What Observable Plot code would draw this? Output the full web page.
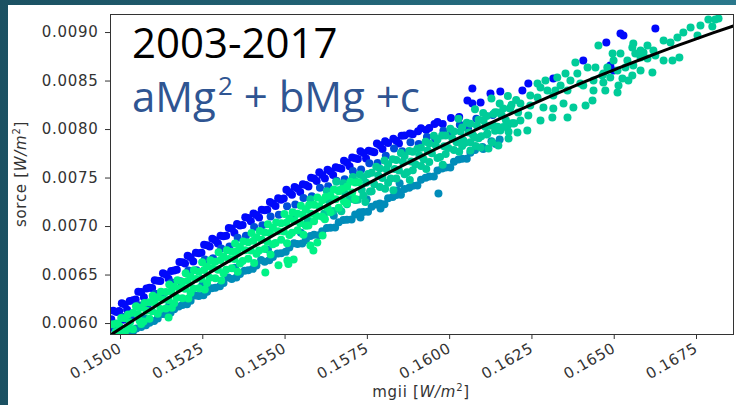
<!DOCTYPE html>
<html><head><meta charset="utf-8">
<script src="https://cdn.jsdelivr.net/npm/d3@7"></script>
<script src="https://cdn.jsdelivr.net/npm/@observablehq/plot@0.6"></script>
<style>
html,body{margin:0;padding:0;background:#1c5464;}
#wrap{position:relative;width:736px;height:405px;overflow:hidden;background:linear-gradient(90deg,#1b5162,#2a788c);}
#panel{position:absolute;left:8px;top:5px;width:728px;height:400px;background:#fff;}
#chart{position:absolute;left:0;top:0;}
</style></head><body>
<div id="wrap"><div id="panel"></div><div id="chart"></div></div>
<script>
const xTicks = [0.1500,0.1525,0.1550,0.1575,0.1600,0.1625,0.1650,0.1675];
const yTicks = [0.0060,0.0065,0.0070,0.0075,0.0080,0.0085,0.0090];
const shades = {blue:0.03, azure:0.3, steel:0.55, teal:0.8, green:0.95};

const fitMg = [0.1497,0.1500,0.1510,0.1520,0.1530,0.1540,0.1550,0.1560,0.1570,0.1580,0.1590,0.1600,0.1610,0.1620,0.1630,0.1640,0.1650,0.1660,0.1670,0.1680,0.1686];
const fitSorce = [0.005882,0.005948,0.006166,0.006378,0.006584,0.006784,0.006979,0.007169,0.007352,0.007530,0.007702,0.007869,0.008030,0.008185,0.008334,0.008478,0.008616,0.008748,0.008875,0.008996,0.009066];

const blue = [
[0.14978,0.006133],[0.14972,0.006043],[0.14980,0.005953],[0.15004,0.006208],[0.14996,0.006128],[0.15008,0.006038],
[0.15028,0.006233],[0.15020,0.006143],[0.15054,0.006328],[0.15046,0.006248],[0.15079,0.006362],[0.15071,0.006272],
[0.15104,0.006446],[0.15096,0.006366],[0.15129,0.006519],[0.15121,0.006439],[0.15154,0.006542],[0.15146,0.006462],
[0.15179,0.006635],[0.15171,0.006555],[0.15204,0.006698],[0.15196,0.006618],[0.15229,0.006730],[0.15221,0.006640],
[0.15254,0.006811],[0.15246,0.006731],[0.15279,0.006873],[0.15271,0.006793],[0.15304,0.006904],[0.15296,0.006824],
[0.15329,0.006985],[0.15321,0.006905],[0.15354,0.007025],[0.15346,0.006935],[0.15379,0.007095],[0.15371,0.007015],
[0.15404,0.007134],[0.15396,0.007054],[0.15429,0.007174],[0.15421,0.007094],[0.15454,0.007253],[0.15446,0.007173],
[0.15479,0.007291],[0.15471,0.007211],[0.15504,0.007379],[0.15496,0.007289],[0.15529,0.007407],[0.15521,0.007327],
[0.15554,0.007435],[0.15546,0.007355],[0.15579,0.007502],[0.15571,0.007412],[0.15604,0.007559],[0.15596,0.007469],
[0.15629,0.007585],[0.15621,0.007495],[0.15654,0.007611],[0.15646,0.007531],[0.15679,0.007677],[0.15671,0.007597],
[0.15704,0.007712],[0.15696,0.007622],[0.15729,0.007777],[0.15721,0.007697],[0.15754,0.007782],[0.15746,0.007702],
[0.15779,0.007856],[0.15771,0.007766],[0.15804,0.007880],[0.15796,0.007800],[0.15829,0.007904],[0.15854,0.007937],
[0.15846,0.007857],[0.15879,0.007960],[0.15904,0.007982],[0.15929,0.007994],[0.15954,0.008056],[0.15979,0.008058],
[0.16004,0.008119],[0.16029,0.008130],[0.16054,0.008299],[0.16069,0.008423],[0.16069,0.008268],[0.16094,0.008278],
[0.16124,0.008371],[0.16154,0.008392],[0.16221,0.008402],[0.16239,0.008474],[0.16315,0.008526],[0.16406,0.008711],
[0.16476,0.008897],[0.16519,0.008990],[0.16528,0.008969],[0.16625,0.009041],[0.16488,0.008660],[0.16498,0.008608]
];
const blueMid = [
[0.14988,0.006120],[0.15013,0.006195],[0.15038,0.006240],[0.15063,0.006325],[0.15088,0.006369],[0.15113,0.006442],
[0.15138,0.006505],[0.15163,0.006548],[0.15188,0.006631],[0.15213,0.006684],[0.15238,0.006725],[0.15263,0.006807],
[0.15288,0.006858],[0.15313,0.006899],[0.15338,0.006980],[0.15363,0.007010],[0.15388,0.007089],[0.15413,0.007119],
[0.15438,0.007168],[0.15463,0.007237],[0.15488,0.007275],[0.15513,0.007353],[0.15538,0.007391],[0.15563,0.007428],
[0.15588,0.007495],[0.15613,0.007532],[0.15638,0.007568],[0.15663,0.007604],[0.15688,0.007659],[0.15713,0.007704],
[0.15738,0.007759],[0.15763,0.007774],[0.15788,0.007838],[0.15813,0.007862],[0.15838,0.007885],[0.15863,0.007938],
[0.15888,0.007951],[0.15913,0.008013],[0.15938,0.008015],[0.15963,0.008077]
];

const azure = [
[0.14982,0.005973],[0.15008,0.006068],[0.15032,0.006053],[0.15055,0.006188],[0.15082,0.006182],[0.15105,0.006306],
[0.15131,0.006309],[0.15155,0.006422],[0.15182,0.006435],[0.15206,0.006548],[0.15231,0.006550],[0.15256,0.006661],
[0.15281,0.006673],[0.15306,0.006774],[0.15331,0.006795],[0.15356,0.006885],[0.15381,0.006905],[0.15406,0.006994],
[0.15431,0.007014],[0.15456,0.007103],[0.15481,0.007121],[0.15506,0.007209],[0.15531,0.007227],[0.15556,0.007295],
[0.15581,0.007312],[0.15606,0.007399],[0.15631,0.007415],[0.15656,0.007471],[0.15681,0.007487],[0.15706,0.007572],
[0.15731,0.007587],[0.15756,0.007652],[0.15781,0.007656],[0.15806,0.007730],[0.15831,0.007804],[0.15856,0.007777],
[0.15881,0.007870],[0.15906,0.007852],[0.15931,0.007924],[0.15956,0.007906],[0.15981,0.007988],[0.16006,0.007969],
[0.16031,0.008050],[0.16056,0.008010],[0.16081,0.008110],[0.16131,0.008149]
];

const steel = [
[0.14990,0.005883],[0.15002,0.005898],[0.15027,0.005923],[0.15048,0.005948],[0.15077,0.005982],[0.15073,0.006052],
[0.15102,0.006026],[0.15127,0.006099],[0.15152,0.006112],[0.15148,0.006192],[0.15177,0.006175],[0.15202,0.006198],
[0.15227,0.006290],[0.15252,0.006291],[0.15248,0.006391],[0.15277,0.006363],[0.15302,0.006384],[0.15327,0.006475],
[0.15352,0.006475],[0.15348,0.006575],[0.15377,0.006545],[0.15402,0.006564],[0.15427,0.006654],[0.15452,0.006653],
[0.15448,0.006763],[0.15477,0.006721],[0.15502,0.006739],[0.15527,0.006827],[0.15552,0.006825],[0.15548,0.006935],
[0.15577,0.006902],[0.15602,0.006909],[0.15627,0.006985],[0.15652,0.006991],[0.15648,0.007111],[0.15677,0.007067],
[0.15702,0.007072],[0.15727,0.007147],[0.15752,0.007152],[0.15748,0.007282],[0.15777,0.007226],[0.15802,0.007230],
[0.15827,0.007304],[0.15852,0.007327],[0.15848,0.007447],[0.15877,0.007400],[0.15902,0.007422],[0.15927,0.007504],
[0.15952,0.007516],[0.15977,0.007598],[0.16002,0.007609],[0.16027,0.007690],[0.16052,0.007700],[0.16077,0.007790],
[0.16102,0.007800],[0.16127,0.007879],[0.16152,0.007898],[0.15790,0.007186],[0.15729,0.007093],[0.15841,0.007371],
[0.15966,0.007340],[0.16100,0.007820],[0.16140,0.007850]
];
const steelMid = [
[0.15013,0.005875],[0.15038,0.005920],[0.15063,0.005965],[0.15088,0.006009],[0.15113,0.006052],[0.15138,0.006095],
[0.15163,0.006148],[0.15188,0.006191],[0.15213,0.006234],[0.15238,0.006285],[0.15263,0.006327],[0.15288,0.006368],
[0.15313,0.006419],[0.15338,0.006460],[0.15363,0.006510],[0.15388,0.006549],[0.15413,0.006599],[0.15438,0.006638],
[0.15463,0.006687],[0.15488,0.006725],[0.15513,0.006783],[0.15538,0.006821],[0.15563,0.006858],[0.15588,0.006915],
[0.15613,0.006952],[0.15638,0.006988],[0.15663,0.007044],[0.15688,0.007069],[0.15713,0.007124],[0.15738,0.007149],
[0.15763,0.007204],[0.15788,0.007238],[0.15813,0.007292],[0.15838,0.007325],[0.15863,0.007388],[0.15888,0.007421],
[0.15913,0.007483],[0.15938,0.007515],[0.15963,0.007577],[0.15988,0.007608],[0.16013,0.007669],[0.16038,0.007700],
[0.16063,0.007760]
];

const teal = [
[0.15527,0.007107],[0.15577,0.007282],[0.15569,0.007062],[0.15627,0.007365],[0.15633,0.007265],[0.15619,0.007135],
[0.15646,0.007161],[0.15656,0.007461],[0.15677,0.007447],[0.15683,0.007337],[0.15671,0.007157],[0.15696,0.007282],
[0.15706,0.007512],[0.15727,0.007537],[0.15733,0.007377],[0.15721,0.007277],[0.15752,0.007542],[0.15746,0.007452],
[0.15758,0.007362],[0.15744,0.007252],[0.15777,0.007616],[0.15783,0.007526],[0.15771,0.007436],[0.15802,0.007680],
[0.15808,0.007590],[0.15796,0.007500],[0.15804,0.007390],[0.15827,0.007694],[0.15833,0.007594],[0.15821,0.007494],
[0.15829,0.007374],[0.15852,0.007757],[0.15858,0.007667],[0.15846,0.007577],[0.15877,0.007780],[0.15883,0.007670],
[0.15871,0.007560],[0.15879,0.007480],[0.15902,0.007802],[0.15908,0.007732],[0.15896,0.007642],[0.15927,0.007874],
[0.15933,0.007784],[0.15921,0.007694],[0.15929,0.007594],[0.15952,0.007936],[0.15958,0.007836],[0.15946,0.007756],
[0.15977,0.007938],[0.15983,0.007828],[0.15971,0.007718],[0.15979,0.007638],[0.16002,0.008009],[0.16008,0.007909],
[0.15996,0.007809],[0.16027,0.008110],[0.16033,0.007980],[0.16021,0.007870],[0.16029,0.007770],[0.16052,0.008070],
[0.16058,0.007970],[0.16046,0.007860],[0.16077,0.008210],[0.16083,0.008040],[0.16071,0.007940],[0.16079,0.007830],
[0.16102,0.008170],[0.16108,0.008030],[0.16096,0.007930],[0.16127,0.008319],[0.16133,0.008159],[0.16121,0.008039],
[0.16129,0.007869],[0.16152,0.008268],[0.16158,0.008148],[0.16146,0.008028],[0.16177,0.008347],[0.16183,0.008217],
[0.16171,0.008097],[0.16179,0.007977],[0.16202,0.008305],[0.16208,0.008175],[0.16196,0.008065],
[0.16786,0.009134],[0.16807,0.009134],[0.16817,0.009144],[0.16762,0.009072],[0.16798,0.009062],[0.16732,0.009051],
[0.16710,0.009000],[0.16753,0.008969],[0.16650,0.008917],[0.16671,0.008897],[0.16692,0.008948],[0.16601,0.008866],
[0.16558,0.008887],[0.16555,0.008845],[0.16589,0.008794],[0.16619,0.008814],[0.16580,0.008742],[0.16564,0.008783],
[0.16540,0.008711],[0.16519,0.008783],[0.16495,0.008783],[0.16498,0.008711],[0.16534,0.008639],[0.16558,0.008660],
[0.16601,0.008732],[0.16650,0.008711],[0.16677,0.008711],[0.16698,0.008742],[0.16616,0.008588],[0.16580,0.008608],
[0.16555,0.008557],[0.16525,0.008526],[0.16543,0.008505],[0.16467,0.008484],[0.16510,0.008381],[0.16473,0.008402],
[0.16464,0.008557],[0.16452,0.008866],[0.16580,0.008814],[0.16625,0.008763],[0.16488,0.008536],[0.16382,0.008691],
[0.16419,0.008639],[0.16443,0.008639],[0.16388,0.008577],[0.16352,0.008577],[0.16367,0.008505],[0.16337,0.008454],
[0.16406,0.008454],[0.16437,0.008402],[0.16434,0.008299],[0.16413,0.008247],[0.16376,0.008227],[0.16346,0.008268],
[0.16315,0.008350],[0.16297,0.008402],[0.16276,0.008433],[0.16291,0.008505],[0.16327,0.008536],[0.16267,0.008330],
[0.16245,0.008247],[0.16285,0.008227],[0.16315,0.008216],[0.16358,0.008124],[0.16312,0.008124],[0.16276,0.008093],
[0.16239,0.008144],[0.16215,0.008093],[0.16194,0.008062],[0.16236,0.007990],[0.16206,0.007969],[0.16176,0.008041],
[0.16154,0.007990],[0.16133,0.008041],[0.16115,0.007959],[0.16179,0.007907],[0.16148,0.007835],[0.16118,0.007804],
[0.16094,0.007814],[0.16063,0.007783],[0.16042,0.007887],[0.16078,0.007917],[0.16103,0.008093],[0.16145,0.008175],
[0.16185,0.008227],[0.16215,0.008268],[0.16245,0.008350],[0.16267,0.008474],[0.16321,0.008402],[0.16358,0.008402],
[0.16397,0.008474],[0.16437,0.008505],[0.16467,0.008577],[0.16479,0.008639],[0.16510,0.008608],[0.16513,0.008454]
];
const tealMid = [
[0.15663,0.007374],[0.15663,0.007184],[0.15688,0.007419],[0.15688,0.007229],[0.15713,0.007464],[0.15713,0.007274],
[0.15738,0.007509],[0.15738,0.007319],[0.15763,0.007554],[0.15763,0.007364],[0.15788,0.007598],[0.15788,0.007408],
[0.15813,0.007642],[0.15813,0.007452],[0.15838,0.007685],[0.15838,0.007495],[0.15863,0.007728],[0.15863,0.007538],
[0.15888,0.007771],[0.15888,0.007581],[0.15913,0.007813],[0.15913,0.007623],[0.15938,0.007855],[0.15938,0.007665],
[0.15963,0.007897],[0.15963,0.007707],[0.15988,0.007938],[0.15988,0.007748],[0.16013,0.007979],[0.16013,0.007789],
[0.16038,0.008020],[0.16038,0.007830],[0.16063,0.008060],[0.16063,0.007870],[0.16088,0.008100],[0.16088,0.007910],
[0.16113,0.008139],[0.16113,0.007949],[0.16138,0.008178],[0.16138,0.007988],[0.16163,0.008217],[0.16163,0.008027],
[0.16188,0.008256],[0.16188,0.008066]
];

const green = [
[0.14977,0.005993],[0.14985,0.005913],[0.15002,0.006058],[0.14996,0.005978],[0.15007,0.005908],
[0.15023,0.006093],[0.15029,0.006013],[0.15021,0.005943],[0.15047,0.006178],[0.15053,0.006098],[0.15058,0.006028],
[0.15073,0.006212],[0.15079,0.006132],[0.15070,0.006022],[0.15098,0.006286],[0.15104,0.006216],[0.15096,0.006126],
[0.15123,0.006329],[0.15129,0.006249],[0.15121,0.006149],[0.15148,0.006402],[0.15154,0.006332],[0.15146,0.006242],
[0.15156,0.006162],[0.15173,0.006445],[0.15179,0.006365],[0.15171,0.006265],[0.15198,0.006518],[0.15204,0.006438],
[0.15196,0.006358],[0.15206,0.006258],[0.15223,0.006550],[0.15229,0.006460],[0.15221,0.006360],[0.15248,0.006631],
[0.15254,0.006551],[0.15246,0.006461],[0.15256,0.006351],[0.15273,0.006653],[0.15279,0.006573],[0.15271,0.006473],
[0.15298,0.006734],[0.15304,0.006654],[0.15296,0.006554],[0.15306,0.006444],[0.15323,0.006755],[0.15329,0.006665],
[0.15321,0.006555],[0.15348,0.006825],[0.15354,0.006745],[0.15346,0.006665],[0.15356,0.006535],[0.15373,0.006845],
[0.15379,0.006755],[0.15371,0.006645],[0.15398,0.006934],[0.15404,0.006854],[0.15396,0.006754],[0.15406,0.006624],
[0.15423,0.006954],[0.15429,0.006864],[0.15421,0.006754],[0.15448,0.007023],[0.15454,0.006933],[0.15446,0.006843],
[0.15456,0.006713],[0.15473,0.007041],[0.15479,0.006951],[0.15471,0.006831],[0.15498,0.007129],[0.15504,0.007039],
[0.15496,0.006949],[0.15506,0.006829],[0.15523,0.007147],[0.15529,0.007057],[0.15521,0.006937],[0.15548,0.007215],
[0.15554,0.007125],[0.15546,0.007035],[0.15556,0.006915],[0.15573,0.007222],[0.15579,0.007132],[0.15571,0.007012],
[0.15598,0.007299],[0.15604,0.007209],[0.15596,0.007109],[0.15623,0.007305],[0.15629,0.007195],[0.15621,0.007075],
[0.15648,0.007381],[0.15654,0.007281],[0.15673,0.007387],[0.15679,0.007257],[0.15698,0.007462],[0.15704,0.007352],
[0.15723,0.007457],
[0.15146,0.006062],[0.15440,0.006526],[0.15480,0.006600],[0.15510,0.006615],[0.15526,0.006660],[0.15507,0.006649],
[0.15577,0.006804],[0.15598,0.006835],[0.15614,0.006907],[0.15586,0.006753]
];
const greenMid = [
[0.14988,0.006000],[0.15013,0.006055],[0.15013,0.005885],[0.15038,0.006110],[0.15038,0.005940],[0.15063,0.006165],
[0.15063,0.005995],[0.15088,0.006219],[0.15088,0.006049],[0.15113,0.006272],[0.15113,0.006102],[0.15138,0.006325],
[0.15138,0.006155],[0.15163,0.006378],[0.15163,0.006208],[0.15188,0.006431],[0.15188,0.006261],[0.15213,0.006484],
[0.15213,0.006314],[0.15238,0.006535],[0.15238,0.006365],[0.15263,0.006587],[0.15263,0.006417],[0.15288,0.006638],
[0.15288,0.006468],[0.15313,0.006689],[0.15313,0.006519],[0.15338,0.006740],[0.15338,0.006570],[0.15363,0.006790],
[0.15363,0.006620],[0.15388,0.006839],[0.15388,0.006669],[0.15413,0.006889],[0.15413,0.006719],[0.15438,0.006938],
[0.15438,0.006768],[0.15463,0.006987],[0.15463,0.006817],[0.15488,0.007035],[0.15488,0.006865],[0.15513,0.007083],
[0.15513,0.006913],[0.15538,0.007131],[0.15538,0.006961],[0.15563,0.007178],[0.15563,0.007008],[0.15588,0.007225],
[0.15588,0.007055],[0.15613,0.007272],[0.15613,0.007102],[0.15638,0.007318],[0.15638,0.007148],[0.15663,0.007364],
[0.15663,0.007194],[0.15688,0.007409],[0.15688,0.007239],[0.15713,0.007454],[0.15713,0.007284]
];

const groups = [
  ["blue", blue], ["blue", blueMid], ["azure", azure], ["steel", steel], ["steel", steelMid],
  ["teal", teal], ["teal", tealMid], ["green", green], ["green", greenMid]
];
const points = groups.flatMap(([name, arr]) => arr.map(([mg, so]) => ({mg, so, shade: shades[name]})));
const fit = fitMg.map((mg, i) => ({mg, so: fitSorce[i]}));

const chart = Plot.plot({
  width: 736, height: 405,
  marginLeft: 110, marginRight: 3, marginTop: 14, marginBottom: 71,
  style: {background: "transparent", fontFamily: "DejaVu Sans", fontSize: "15px", color: "#333", letterSpacing: "0.7px"},
  x: {domain: [0.149696, 0.168624], ticks: xTicks, tickFormat: d3.format(".4f"), tickSize: 5, tickRotate: -30, label: null},
  y: {domain: [0.005887, 0.009186], ticks: yTicks, tickFormat: d3.format(".4f"), tickSize: 5, tickPadding: 7, label: null},
  color: {type: "linear", domain: [0, 1], range: ["#0000ff", "#00ff80"], interpolate: "rgb"},
  marks: [
    Plot.dot(points, {x: "mg", y: "so", fill: "shade", r: 4, clip: true}),
    Plot.line(fit, {x: "mg", y: "so", stroke: "#000", strokeWidth: 3, curve: "natural", clip: true}),
    Plot.frame({stroke: "#333"})
  ]
});
document.getElementById("chart").appendChild(chart);

const svg = d3.select(chart);
svg.append("text").attr("x", 132).attr("y", 58).attr("text-anchor", "start").style("letter-spacing", "0px")
  .attr("font-family", "Open Sans").attr("font-size", 42).attr("fill", "#000").text("2003-2017");
const t2 = svg.append("text").attr("x", 132).attr("y", 112).attr("text-anchor", "start").style("letter-spacing", "0px")
  .attr("font-family", "Open Sans").attr("font-size", 42).attr("fill", "#2f5592").style("white-space", "pre");
t2.append("tspan").text("aMg");
t2.append("tspan").attr("dx", 2).attr("dy", -17).attr("font-size", 26).text("2");
t2.append("tspan").attr("dy", 17).text(" + bMg +c");

const yl = svg.append("text").attr("transform", "translate(26,174) rotate(-90)")
  .attr("text-anchor", "middle").attr("font-family", "DejaVu Sans").attr("font-size", 15).attr("fill", "#333").style("white-space", "pre");
yl.append("tspan").text("sorce [");
yl.append("tspan").attr("font-style", "italic").text("W/m");
yl.append("tspan").attr("dy", -6).attr("font-size", 10).text("2");
yl.append("tspan").attr("dy", 6).text("]");

const xl = svg.append("text").attr("x", 421).attr("y", 397)
  .attr("text-anchor", "middle").attr("font-family", "DejaVu Sans").attr("font-size", 15).attr("fill", "#333").style("white-space", "pre");
xl.append("tspan").text("mgii [");
xl.append("tspan").attr("font-style", "italic").text("W/m");
xl.append("tspan").attr("dy", -6).attr("font-size", 10).text("2");
xl.append("tspan").attr("dy", 6).text("]");
</script>
</body></html>
